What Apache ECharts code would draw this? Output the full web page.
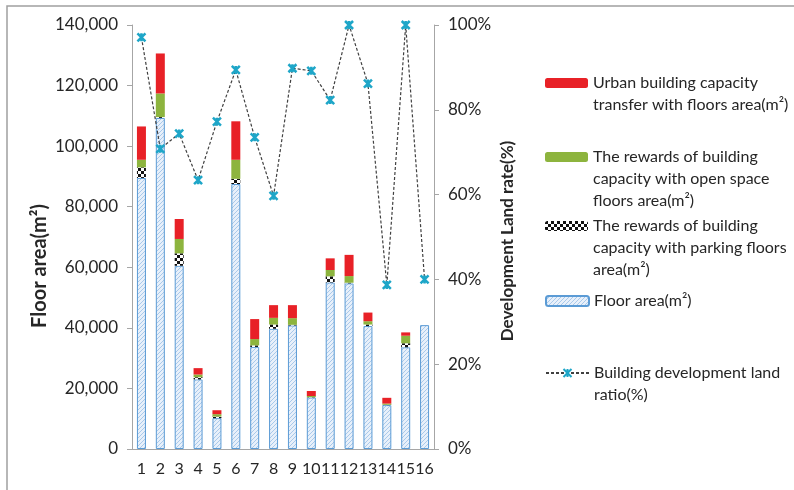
<!DOCTYPE html>
<html>
<head>
<meta charset="utf-8">
<script src="https://cdn.jsdelivr.net/npm/echarts@6/dist/echarts.min.js"></script>
<style>
  html, body { margin: 0; padding: 0; background: #fff; }
  #chart { width: 794px; height: 490px; }
</style>
</head>
<body>
<div id="chart"></div>
<script>
// data
var categories = ['1', '2', '3', '4', '5', '6', '7', '8', '9', '10', '11', '12', '13', '14', '15', '16'];
var floorArea = [89500, 109300, 60500, 23000, 10200, 87500, 33700, 39700, 40800, 17000, 55000, 54700, 40600, 14500, 33600, 40900];
var parkingReward = [3500, 300, 4100, 700, 500, 1700, 500, 1400, 200, 100, 2000, 200, 500, 100, 1300, 0];
var openSpaceReward = [2500, 7800, 4750, 900, 800, 6300, 2100, 2200, 2200, 400, 2100, 2200, 1100, 400, 2500, 0];
var transferArea = [11000, 13200, 6600, 2100, 1300, 12700, 6600, 4200, 4300, 1650, 3850, 7000, 2850, 1900, 1100, 0];
var landRate = [97.1, 70.8, 74.4, 63.4, 77.2, 89.4, 73.5, 59.7, 89.8, 89.2, 82.3, 100, 86.2, 38.7, 100, 40.0];

var names = [
    'Urban building capacity\ntransfer with floors area(m²)',
    'The rewards of building\ncapacity with open space\nfloors area(m²)',
    'The rewards of building\ncapacity with parking floors\narea(m²)',
    'Floor area(m²)',
    'Building development land\nratio(%)'
];

// hatched fill for floor area
function hatchPattern() {
    var c = document.createElement('canvas');
    c.width = 4; c.height = 4;
    var g = c.getContext('2d');
    g.fillStyle = '#e8f0fa';
    g.fillRect(0, 0, 4, 4);
    g.strokeStyle = '#a9c9ea';
    g.lineWidth = 1;
    g.beginPath();
    g.moveTo(0, 4); g.lineTo(4, 0);
    g.moveTo(-1, 1); g.lineTo(1, -1);
    g.moveTo(3, 5); g.lineTo(5, 3);
    g.stroke();
    return c;
}
// checkerboard for parking reward
function checkerPattern() {
    var c = document.createElement('canvas');
    c.width = 6; c.height = 6;
    var g = c.getContext('2d');
    g.fillStyle = '#ffffff';
    g.fillRect(0, 0, 6, 6);
    g.fillStyle = '#111111';
    g.fillRect(0, 0, 3, 3);
    g.fillRect(3, 3, 3, 3);
    return c;
}

var txt = '#262626';
var axisCol = '#a6a6a6';
var font = 'Lato';

// legend text: blank lines on top so the icon sits on the first line
function legendAt(name, top, lines) {
    var pad = '';
    for (var i = 1; i < lines; i++) pad += ' \n';
    return {
        data: [name],
        left: 545,
        top: top,
        orient: 'vertical',
        padding: 0,
        itemWidth: 43,
        itemHeight: 10,
        itemGap: 0,
        selectedMode: false,
        formatter: function (n) { return pad + n; },
        textStyle: { color: txt, fontSize: 16, fontFamily: font, lineHeight: 22 }
    };
}

var myChart = echarts.init(document.getElementById('chart'));

var option = {
    animation: false,
    grid: { left: 132, right: 360, top: 25, bottom: 41 },
    legend: [
        legendAt(names[0], 50, 2),
        legendAt(names[1], 102, 3),
        legendAt(names[2], 171, 3),
        legendAt(names[3], 290, 1),
        legendAt(names[4], 340, 2)
    ],
    xAxis: {
        type: 'category',
        data: categories,
        axisLine: { lineStyle: { color: axisCol } },
        axisTick: { length: 5, lineStyle: { color: axisCol } },
        axisLabel: { color: txt, fontSize: 16, fontFamily: font, margin: 12, interval: 0 }
    },
    yAxis: [{
        type: 'value',
        min: 0, max: 140000, interval: 20000,
        splitLine: { show: false },
        axisLine: { show: true, lineStyle: { color: axisCol } },
        axisTick: { show: true, length: 5, lineStyle: { color: axisCol } },
        axisLabel: {
            color: txt, fontSize: 17, fontFamily: font, margin: 14,
            formatter: function (v) { return v.toLocaleString('en-US'); }
        }
    }, {
        type: 'value',
        min: 0, max: 100, interval: 20,
        splitLine: { show: false },
        axisLine: { show: true, lineStyle: { color: axisCol } },
        axisTick: { show: true, length: 5, lineStyle: { color: axisCol } },
        axisLabel: { color: txt, fontSize: 17, fontFamily: font, margin: 14, formatter: '{value}%' }
    }],
    graphic: [{
        type: 'rect',
        shape: { x: 7, y: 6, width: 800, height: 500 },
        style: { fill: 'none', stroke: '#a0a0a0', lineWidth: 1.5 },
        silent: true
    }, {
        type: 'text', x: 40, y: 266, rotation: Math.PI / 2,
        style: { text: 'Floor area(m²)', font: 'bold 20px Lato', fill: txt, align: 'center', verticalAlign: 'middle' }
    }, {
        type: 'text', x: 508, y: 241, rotation: Math.PI / 2,
        style: { text: 'Development Land rate(%)', font: 'bold 17px Lato', fill: txt, align: 'center', verticalAlign: 'middle' }
    }],
    series: [{
        name: names[3],
        type: 'bar',
        stack: 'area',
        barWidth: 9,
        data: floorArea,
        itemStyle: { color: { image: hatchPattern(), repeat: 'repeat' }, borderColor: '#5b9bd5', borderWidth: 1 }
    }, {
        name: names[2],
        type: 'bar',
        stack: 'area',
        data: parkingReward,
        itemStyle: { color: { image: checkerPattern(), repeat: 'repeat' } }
    }, {
        name: names[1],
        type: 'bar',
        stack: 'area',
        data: openSpaceReward,
        itemStyle: { color: '#8db43e' }
    }, {
        name: names[0],
        type: 'bar',
        stack: 'area',
        data: transferArea,
        itemStyle: { color: '#e82127' }
    }, {
        name: names[4],
        type: 'line',
        yAxisIndex: 1,
        data: landRate,
        symbol: 'path://M0,0L8,8M8,0L0,8M4,0L4,8',
        symbolSize: 8,
        lineStyle: { color: '#404040', width: 1.2, type: [3, 2] },
        itemStyle: { color: '#1ea6c8', borderColor: '#1ea6c8', borderWidth: 2.5 },
        z: 5
    }]
};

myChart.setOption(option);
</script>
</body>
</html>
